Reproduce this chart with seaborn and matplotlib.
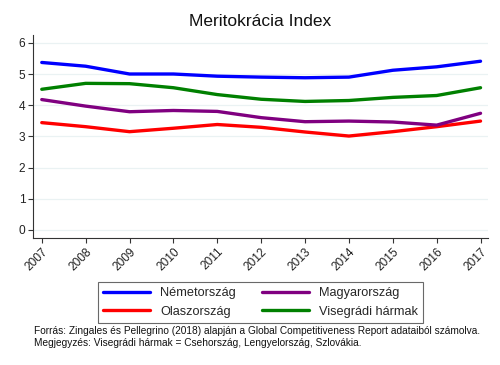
import matplotlib
matplotlib.use("Agg")
import matplotlib.pyplot as plt
import seaborn as sns
import pandas as pd

years = [2007, 2008, 2009, 2010, 2011, 2012, 2013, 2014, 2015, 2016, 2017]
nemetorszag = [5.37, 5.25, 5.00, 5.00, 4.93, 4.90, 4.88, 4.90, 5.12, 5.23, 5.41]
olaszorszag = [3.44, 3.31, 3.15, 3.26, 3.38, 3.29, 3.14, 3.01, 3.15, 3.31, 3.49]
magyarorszag = [4.18, 3.97, 3.79, 3.83, 3.80, 3.60, 3.47, 3.49, 3.46, 3.36, 3.74]
visegradi = [4.51, 4.70, 4.69, 4.56, 4.34, 4.19, 4.12, 4.15, 4.25, 4.31, 4.56]

series_names = ["Németország", "Olaszország", "Magyarország", "Visegrádi hármak"]
series_values = [nemetorszag, olaszorszag, magyarorszag, visegradi]
colors = ["#0000ff", "#ff0000", "#800080", "#008000"]

rows = []
for name, vals in zip(series_names, series_values):
    for y, v in zip(years, vals):
        rows.append({"Év": y, "Érték": v, "Ország": name})
df = pd.DataFrame(rows)

sns.set_theme(style="white")
plt.rcParams['font.family'] = ['Liberation Sans', 'DejaVu Sans']

fig = plt.figure(figsize=(5.0, 3.65), dpi=100)
ax = fig.add_axes([0.066, 0.348, 0.910, 0.556])

sns.lineplot(data=df, x="Év", y="Érték", hue="Ország", hue_order=series_names,
             palette=colors, linewidth=2.4, ax=ax, legend=False)

ax.set_xlim(2006.8, 2017.17)
ax.set_ylim(-0.26, 6.25)
ax.set_xticks(years)
ax.set_xticklabels([str(y) for y in years], rotation=45, ha="right",
                   rotation_mode="anchor", fontsize=8.6)
ax.set_yticks(range(0, 7))
ax.set_yticklabels([str(i) for i in range(0, 7)], fontsize=8.6)
ax.yaxis.grid(True, color="#eaf2f3", linewidth=0.9)
ax.xaxis.grid(False)
ax.set_axisbelow(True)
ax.set_xlabel("")
ax.set_ylabel("")
for s in ["top", "right"]:
    ax.spines[s].set_visible(False)
for s in ["left", "bottom"]:
    ax.spines[s].set_color("#333333")
    ax.spines[s].set_linewidth(0.8)
ax.tick_params(axis="both", which="both", direction="out", length=3.5, width=0.8,
               color="#333333", left=True, bottom=True, pad=2, labelcolor="#222222")

fig.text(0.52, 0.94, "Meritokrácia Index", ha="center", va="center", fontsize=12.5, color="#111111")

handles = [plt.Line2D([], [], color=c, linewidth=2.4) for c in colors]
leg = fig.legend(handles, series_names,
                 ncol=2, loc="center", bbox_to_anchor=(0.521, 0.171),
                 fontsize=9.2, frameon=True, fancybox=False, handlelength=3.7,
                 columnspacing=2.0, handletextpad=0.8, labelspacing=0.5,
                 borderpad=0.4, edgecolor="#444444")
leg.get_frame().set_linewidth(0.8)

fig.text(0.068, 0.092, "Forrás: Zingales és Pellegrino (2018) alapján a Global Competitiveness Report adataiból számolva.",
         fontsize=7.3, ha="left", va="center", color="#111111")
fig.text(0.068, 0.060, "Megjegyzés: Visegrádi hármak = Csehország, Lengyelország, Szlovákia.",
         fontsize=7.3, ha="left", va="center", color="#111111")

fig.savefig("out.png", dpi=100, facecolor="white")
